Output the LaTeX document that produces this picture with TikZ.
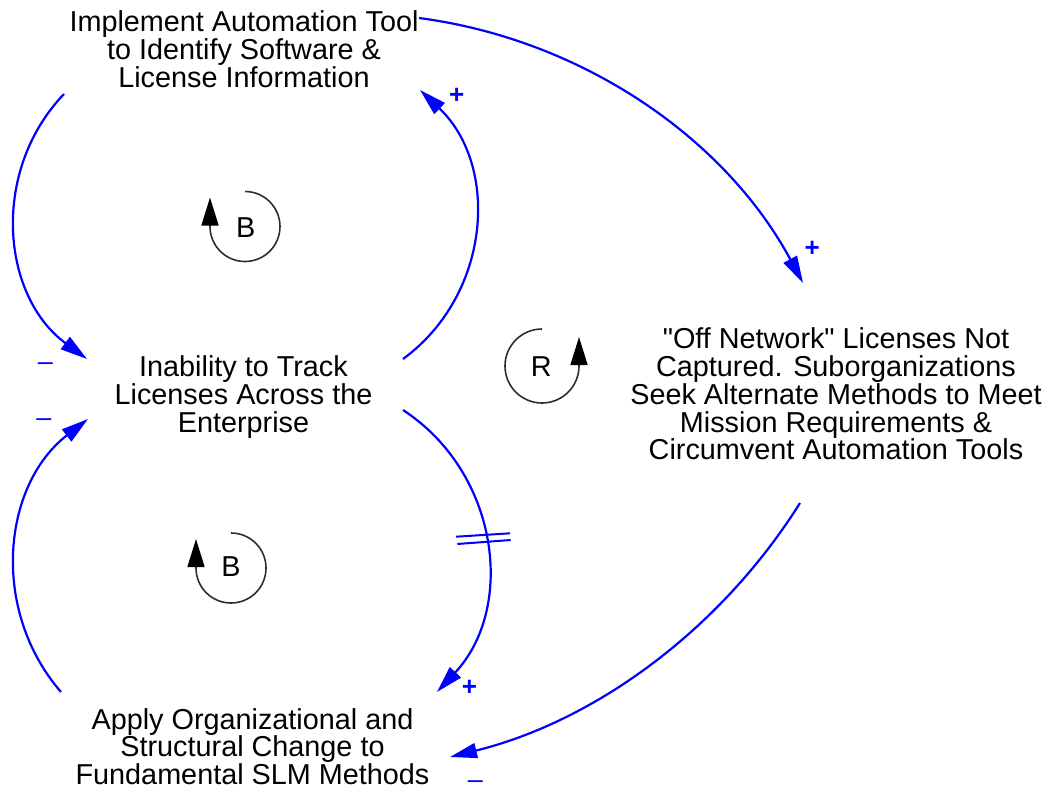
\documentclass[tikz,border=0pt]{standalone}
\usepackage{fontspec}
\setmainfont{Liberation Sans}[Ligatures=TeXOff]
\usetikzlibrary{arrows.meta}
\setlength{\lineskiplimit}{-100pt}
\definecolor{linkblue}{RGB}{0,0,255}
\definecolor{loopgray}{RGB}{45,45,45}
\begin{document}
\begin{tikzpicture}[x=1pt,y=-1pt,
  var/.style={align=center, inner sep=0pt, font=\fontsize{28.8}{27.75}\selectfont, text=black},
  link/.style={draw=linkblue, line width=2.2pt, -{Triangle[length=27pt,width=15pt]}},
  delaymark/.style={draw=linkblue, line width=2pt},
  polplus/.style={text=linkblue, font=\bfseries\fontsize{26}{26}\selectfont, inner sep=0pt, anchor=base},
  polminus/.style={text=linkblue, font=\fontsize{27}{27}\selectfont, inner sep=0pt, anchor=base},
  loopline/.style={draw=loopgray, line width=1.6pt},
  looptip/.style={-{Triangle[length=28pt,width=17pt,color=black]}},
  looplabel/.style={font=\fontsize{28.8}{28.8}\selectfont, inner sep=0pt}
]
\useasboundingbox (0,0) rectangle (1046,790);

% variables
\node[var] (impl) at (244,49) {Implement Automation Tool\\to Identify Software \&\\License Information};
\node[var] (inab) at (243.5,397) {Inability to Track\\Licenses Across the\\Enterprise};
\node[var] (offnet) at (836,394) {"Off Network" Licenses Not\\Captured. Suborganizations\\Seek Alternate Methods to Meet\\Mission Requirements \&\\Circumvent Automation Tools};
\node[var] (apply) at (252.5,746.5) {Apply Organizational and\\Structural Change to\\Fundamental SLM Methods};

% connectors
\draw[link] ([shift={(-180,45)}]impl.center) .. controls +(-73.7,77.1) and +(-85.9,-63.3) .. ([shift={(-156.5,-38)}]inab.center);
\draw[link] ([shift={(159.5,-38)}]inab.center) .. controls +(88.4,-64.8) and +(79.5,75.4) .. ([shift={(176,41)}]impl.center);
\draw[link] ([shift={(175,-31)}]impl.center) .. controls +(163,21.4) and +(-78,-145) .. ([shift={(-33,-111)}]offnet.center);
\draw[link] ([shift={(159.5,13)}]inab.center) .. controls +(96.4,63.1) and +(78.7,-84.2) .. ([shift={(184.5,-54.5)}]apply.center);
\draw[link] ([shift={(-191.5,-54.5)}]apply.center) .. controls +(-71,-82) and +(-85.7,66.3) .. ([shift={(-155.5,22)}]inab.center);
\draw[link] ([shift={(-36,109)}]offnet.center) .. controls +(-79.6,126.7) and +(145.3,-35.9) .. ([shift={(197.5,10.5)}]apply.center);

% delay mark
\draw[delaymark] (456,536.7) -- (510,533.3);
\draw[delaymark] (457.3,544) -- (510.7,540);

% polarities
\node[polminus] (p1) at (45.5,370) {–};
\node[polminus] (p5) at (44,426) {–};
\node[polplus] (p2) at (456.7,103.5) {+};
\node[polplus] (p3) at (812.3,256.8) {+};
\node[polplus] (p4) at (469.5,695.5) {+};
\node[polminus] (p6) at (475.5,788) {–};

% loop markers
\coordinate (b1c) at (245,226.5);
\draw[loopline] (b1c) ++(0,-35) arc[start angle=270, end angle=540, radius=35];
\draw[loopline, looptip] ([shift={(-35,0)}]b1c) -- ++(0,-29);
\node[looplabel] (b1) at (245.7,228) {B};

\coordinate (b2c) at (231,568);
\draw[loopline] (b2c) ++(0,-35) arc[start angle=270, end angle=540, radius=35];
\draw[loopline, looptip] ([shift={(-35,0)}]b2c) -- ++(0,-29);
\node[looplabel] (b2) at (231,567) {B};

\coordinate (rc) at (542,366);
\draw[loopline] (rc) ++(0,-37) arc[start angle=270, end angle=0, radius=37];
\draw[loopline, looptip] ([shift={(37,0)}]rc) -- ++(0,-29);
\node[looplabel] (r1) at (541.3,367) {R};
\end{tikzpicture}
\end{document}
